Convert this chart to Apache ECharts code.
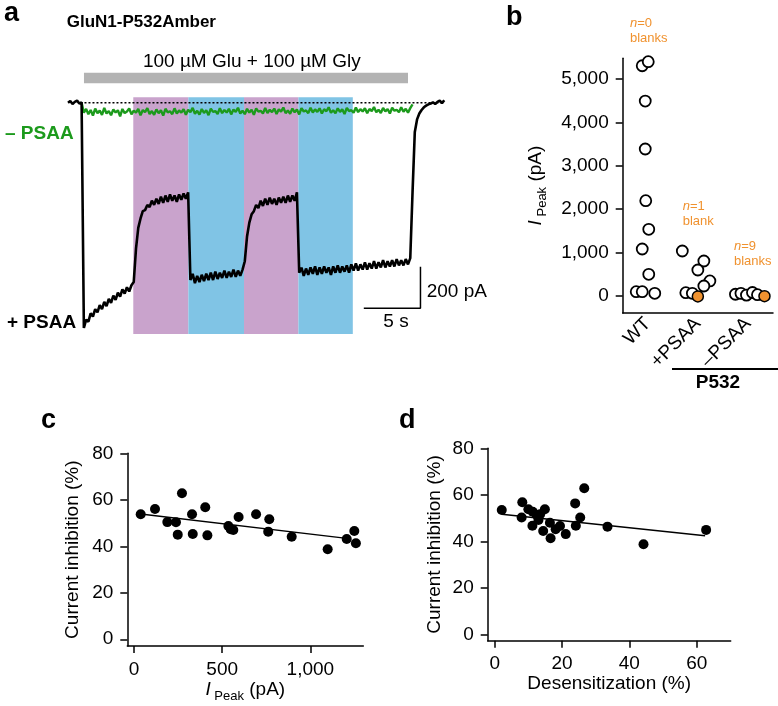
<!DOCTYPE html>
<html>
<head>
<meta charset="utf-8">
<script src="https://cdn.jsdelivr.net/npm/echarts@6/dist/echarts.min.js"></script>
<style>
  html, body { margin: 0; padding: 0; background: #fff; }
  #chart { width: 778px; height: 706px; }
</style>
</head>
<body>
<div id="chart"></div>
<script>
// ---- panel a: whole-cell current, one sample every 0.2 s (pA) ----
const dt = 0.2;
const plusPsaa = [
  0, 8, -6, 4, 10, -4, 2,
  -1080, -1040, -1050, -1010, -1025, -990, -1005, -970, -990, -955, -975, -940, -960, -925, -945, -910, -930, -895, -915, -885, -905, -875,
  -860, -700, -600, -555, -520, -515, -490, -500, -470, -490, -460, -485, -450, -480, -445, -475, -440, -470, -445, -475, -440, -465, -435, -460, -430,
  -850, -820, -865, -830, -860, -825, -855, -820, -850, -815, -850, -810, -845, -815, -840, -805, -840, -810, -835, -800, -835, -805, -830, -800,
  -760, -640, -575, -535, -520, -490, -505, -470, -495, -460, -490, -455, -485, -460, -490, -455, -480, -450, -480, -445, -475, -445, -470, -430,
  -815, -790, -830, -795, -825, -790, -820, -785, -825, -790,
  -820, -785, -815, -790, -825, -785, -815, -780, -815, -785,
  -810, -780, -815, -775, -805, -770, -805, -775, -800, -765,
  -800, -770, -795, -760, -795, -765, -790, -755, -790, -760,
  -785, -755, -785, -750, -780, -755, -780, -750, -775, -745,
  -430, -140, -80, -52, -35, -22, -14, -8, -4, 2, -6, 4, 10, -2, 12
];
const minusPsaaStart = 1.2;
const minusPsaa = [
  0,
  -48, -30, -55, -35, -62, -28, -50, -38, -58, -25, -52, -40, -60, -32, -47, -36, -65, -30, -50, -42,
  -28, -56, -38, -48, -30, -60, -35, -45, -26, -54, -40, -58, -32, -50, -36, -62, -29, -46, -41, -55,
  -27, -52, -37, -48, -31, -58, -34, -45, -25, -53, -39, -57, -30, -49, -36, -60, -28, -44, -40, -54,
  -26, -50, -35, -47, -29, -56, -33, -44, -24, -52, -38, -55, -29, -47, -34, -58, -27, -43, -39, -52,
  -25, -49, -34, -45, -28, -54, -32, -43, -23, -50, -37, -53, -28, -46, -33, -56, -26, -42, -37, -50,
  -24, -47, -32, -44, -27, -52, -31, -41, -22, -48, -36, -51, -27, -44, -32, -54, -25, -40, -36, -48,
  -23, -45, -31, -42, -26, -50, -30, -40, -21, -46, -34, -49, -25, -42, -30, -52, -24, -38, -34, -46,
  -22, -43, -29, -48, -26, -8
];
const purplePeriods = [[5.76, 10.62], [15.53, 20.33]];  // s
const bluePeriods = [[10.62, 15.53], [20.33, 25.13]];
const drugPeriod = [1.41, 30.0];
const baselineT = [1.1, 33.2];
const scaleBarT = [26.1, 31.1];     // 5 s
const scaleBarPA = [-986, -786];    // 200 pA

// ---- panel b: peak currents, x = group index + jitter ----
const groups = ['WT', '+PSAA', '–PSAA'];
const wtPeak = [[0.39, 5306], [0.51, 5399], [0.45, 4493], [0.45, 3387], [0.46, 2196], [0.52, 1537],
  [0.39, 1083], [0.52, 500], [0.27, 99], [0.39, 99], [0.64, 62]];
const plusPeak = [[1.19, 1037], [1.62, 806], [1.5, 599], [1.74, 346], [1.62, 230], [1.26, 76], [1.39, 62]];
const minusPeak = [[2.25, 40], [2.36, 60], [2.47, 20], [2.59, 80], [2.69, 30]];
const blankPeak = [[1.5, -10], [2.83, -5]];
const peakTicks = [0, 1000, 2000, 3000, 4000, 5000];

// ---- panel c: inhibition vs peak current ----
const peakVsInhib = [[38, 53.8], [119, 56.0], [189, 50.4], [238, 50.3], [248, 45.0], [272, 62.8],
  [329, 53.8], [333, 45.3], [404, 56.8], [416, 44.7], [535, 48.7], [548, 47.3], [563, 47.0],
  [593, 52.6], [692, 53.8], [767, 51.6], [761, 46.3], [894, 44.1], [1098, 38.7], [1206, 43.1],
  [1249, 46.6], [1258, 41.3]];
const peakFit = [[38, 53.9], [1206, 43.4]];
const peakXTicks = [0, 500, 1000];
const inhibTicks = [0, 20, 40, 60, 80];

// ---- panel d: inhibition vs desensitization ----
const desensVsInhib = [[2.1, 53.5], [8.2, 56.8], [8.0, 50.2], [10.0, 53.8], [11.3, 52.7], [12.5, 51.3],
  [13.5, 51.6], [11.2, 46.7], [13.0, 49.2], [14.9, 53.8], [14.4, 44.4], [16.4, 48.0], [16.6, 41.3],
  [18.1, 45.2], [19.4, 46.6], [21.1, 43.1], [23.9, 56.3], [24.1, 46.7], [25.4, 50.2], [26.6, 62.8],
  [33.5, 46.3], [44.2, 38.7], [62.8, 44.9]];
const desensFit = [[2.1, 51.6], [62.5, 42.4]];
const desensTicks = [0, 20, 40, 60];

const font = 'Liberation Sans';
const purple = '#c9a3cc';
const blue = '#80c4e5';
const orange = '#f0922f';
const green = '#1c9a1c';

const traceData = plusPsaa.map((v, i) => [+(i * dt).toFixed(2), v]);
const greenData = minusPsaa.map((v, i) => [+(minusPsaaStart + i * dt).toFixed(2), v]);

const shadeAreas = [];
purplePeriods.forEach(p => shadeAreas.push([{ xAxis: p[0], yAxis: -1109, itemStyle: { color: purple } }, { xAxis: p[1], yAxis: 26 }]));
bluePeriods.forEach(p => shadeAreas.push([{ xAxis: p[0], yAxis: -1109, itemStyle: { color: blue } }, { xAxis: p[1], yAxis: 26 }]));
shadeAreas.push([{ xAxis: drugPeriod[0], yAxis: 93, itemStyle: { color: '#b3b3b3' } }, { xAxis: drugPeriod[1], yAxis: 144 }]);

const fmt = v => v.toLocaleString('en-US');

function valueAxis(grid, min, max, ticks, extra) {
  return Object.assign({
    type: 'value', gridIndex: grid, min: min, max: max,
    axisLine: { show: true, onZero: false, lineStyle: { color: '#000', width: 1.5 } },
    axisTick: { show: true, length: 7, customValues: ticks, lineStyle: { color: '#000', width: 1.5 } },
    axisLabel: { customValues: ticks, color: '#000', fontSize: 19, fontFamily: font, margin: 14, formatter: fmt },
    splitLine: { show: false }
  }, extra || {});
}

const nameStyle = { color: '#000', fontSize: 19, fontFamily: font };
const peakNameStyle = {
  color: '#000', fontSize: 19, fontFamily: font,
  rich: {
    i: { fontStyle: 'italic', fontSize: 19, fontFamily: font, lineHeight: 26 },
    s: { fontSize: 13, fontFamily: font, lineHeight: 14, verticalAlign: 'bottom' },
    p: { fontSize: 19, fontFamily: font, lineHeight: 26 }
  }
};

let option = {
  animation: false,
  backgroundColor: '#fff',
  grid: [
    { left: 68, top: 61, width: 391, height: 292 },        // a
    { left: 622.7, top: 58.2, width: 150.3, height: 254.7 }, // b
    { left: 127.3, top: 453.3, width: 236, height: 192.7 },  // c
    { left: 487.7, top: 448.3, width: 243, height: 192.4 }   // d
  ],
  xAxis: [
    { type: 'value', gridIndex: 0, min: 0, max: 34.5, show: false },
    {
      type: 'category', gridIndex: 1, data: groups, boundaryGap: true,
      axisLine: { onZero: false, lineStyle: { color: '#000', width: 1.5 } },
      axisTick: { length: 7, lineStyle: { color: '#000', width: 1.5 } },
      axisLabel: { rotate: 45, interval: 0, color: '#000', fontSize: 19, fontFamily: font, margin: 8 }
    },
    { type: 'value', gridIndex: 1, min: 0, max: 3, show: false },
    valueAxis(2, -38, 1300, peakXTicks, {
      name: '{i|I}{s| Peak}{p| (pA)}', nameLocation: 'middle', nameGap: 31, nameTextStyle: peakNameStyle
    }),
    valueAxis(3, -2.08, 70.1, desensTicks, {
      name: 'Desensitization (%)', nameLocation: 'middle', nameGap: 33, nameTextStyle: nameStyle
    })
  ],
  yAxis: [
    { type: 'value', gridIndex: 0, min: -1200, max: 200, show: false },
    valueAxis(1, -390, 5480, peakTicks, {
      name: '{i|I}{s| Peak}{p| (pA)}', nameLocation: 'middle', nameRotate: 90, nameGap: 74, nameTextStyle: peakNameStyle
    }),
    valueAxis(2, -2.9, 80, inhibTicks, {
      name: 'Current inhibition (%)', nameLocation: 'middle', nameRotate: 90, nameGap: 45, nameTextStyle: nameStyle
    }),
    valueAxis(3, -2.75, 80, inhibTicks, {
      name: 'Current inhibition (%)', nameLocation: 'middle', nameRotate: 90, nameGap: 43, nameTextStyle: nameStyle
    })
  ],
  series: [
    // panel a
    {
      type: 'line', xAxisIndex: 0, yAxisIndex: 0, data: [], z: 1, silent: true,
      markArea: { silent: true, data: shadeAreas }
    },
    {
      type: 'line', xAxisIndex: 0, yAxisIndex: 0, data: greenData, z: 2, showSymbol: false,
      lineStyle: { color: green, width: 2.4 }
    },
    {
      type: 'line', xAxisIndex: 0, yAxisIndex: 0, data: baselineT.map(t => [t, 0]), z: 3, showSymbol: false,
      lineStyle: { color: '#000', width: 1.5, type: [2, 2] }
    },
    {
      type: 'line', xAxisIndex: 0, yAxisIndex: 0, data: traceData, z: 4, showSymbol: false,
      lineStyle: { color: '#000', width: 2.6 }
    },
    {
      type: 'line', xAxisIndex: 0, yAxisIndex: 0, z: 4, showSymbol: false,
      data: [[scaleBarT[0], scaleBarPA[0]], [scaleBarT[1], scaleBarPA[0]], [scaleBarT[1], scaleBarPA[1]]],
      lineStyle: { color: '#000', width: 1.5 }
    },
    // panel b
    ...[wtPeak, plusPeak, minusPeak].map(d => ({
      type: 'scatter', xAxisIndex: 2, yAxisIndex: 1, data: d, symbolSize: 11,
      itemStyle: { color: '#fff', borderColor: '#000', borderWidth: 1.8, opacity: 1 }
    })),
    {
      type: 'scatter', xAxisIndex: 2, yAxisIndex: 1, data: blankPeak, symbolSize: 11,
      itemStyle: { color: orange, borderColor: '#000', borderWidth: 1.5, opacity: 1 }
    },
    // panel c
    {
      type: 'scatter', xAxisIndex: 3, yAxisIndex: 2, data: peakVsInhib, symbolSize: 10,
      itemStyle: { color: '#000', opacity: 1 }
    },
    {
      type: 'line', xAxisIndex: 3, yAxisIndex: 2, data: peakFit, showSymbol: false,
      lineStyle: { color: '#000', width: 1.5 }
    },
    // panel d
    {
      type: 'scatter', xAxisIndex: 4, yAxisIndex: 3, data: desensVsInhib, symbolSize: 10,
      itemStyle: { color: '#000', opacity: 1 }
    },
    {
      type: 'line', xAxisIndex: 4, yAxisIndex: 3, data: desensFit, showSymbol: false,
      lineStyle: { color: '#000', width: 1.5 }
    }
  ],
  graphic: [
    // panel letters
    { type: 'text', x: 4, y: 14, style: { text: 'a', fontSize: 27, fontWeight: 'bold', fontFamily: font, fill: '#000', verticalAlign: 'middle' } },
    { type: 'text', x: 506, y: 17.5, style: { text: 'b', fontSize: 27, fontWeight: 'bold', fontFamily: font, fill: '#000', verticalAlign: 'middle' } },
    { type: 'text', x: 41, y: 421, style: { text: 'c', fontSize: 27, fontWeight: 'bold', fontFamily: font, fill: '#000', verticalAlign: 'middle' } },
    { type: 'text', x: 399, y: 421, style: { text: 'd', fontSize: 27, fontWeight: 'bold', fontFamily: font, fill: '#000', verticalAlign: 'middle' } },
    // panel a text
    { type: 'text', x: 66.7, y: 22.7, style: { text: 'GluN1-P532Amber', fontSize: 17, fontWeight: 'bold', fontFamily: font, fill: '#000', verticalAlign: 'middle' } },
    { type: 'text', x: 251.8, y: 61.7, style: { text: '100 µM Glu + 100 µM Gly', fontSize: 19, fontFamily: font, fill: '#000', align: 'center', verticalAlign: 'middle' } },
    { type: 'text', x: 5, y: 133.3, style: { text: '– PSAA', fontSize: 19, fontWeight: 'bold', fontFamily: font, fill: green, verticalAlign: 'middle' } },
    { type: 'text', x: 7, y: 322.7, style: { text: '+ PSAA', fontSize: 19, fontWeight: 'bold', fontFamily: font, fill: '#000', verticalAlign: 'middle' } },
    { type: 'text', x: 426.7, y: 291.7, style: { text: '200 pA', fontSize: 19, fontFamily: font, fill: '#000', verticalAlign: 'middle' } },
    { type: 'text', x: 396, y: 321.7, style: { text: '5 s', fontSize: 19, fontFamily: font, fill: '#000', align: 'center', verticalAlign: 'middle' } },
    // panel b annotations
    { type: 'text', x: 630, y: 15.8, style: { text: '{i|n}=0\nblanks', fontSize: 13, lineHeight: 15, fontFamily: font, fill: orange, verticalAlign: 'top', rich: { i: { fontStyle: 'italic', fontSize: 13, fontFamily: font, fill: orange } } } },
    { type: 'text', x: 682.7, y: 199, style: { text: '{i|n}=1\nblank', fontSize: 13, lineHeight: 15, fontFamily: font, fill: orange, verticalAlign: 'top', rich: { i: { fontStyle: 'italic', fontSize: 13, fontFamily: font, fill: orange } } } },
    { type: 'text', x: 734, y: 239, style: { text: '{i|n}=9\nblanks', fontSize: 13, lineHeight: 15, fontFamily: font, fill: orange, verticalAlign: 'top', rich: { i: { fontStyle: 'italic', fontSize: 13, fontFamily: font, fill: orange } } } },
    { type: 'line', shape: { x1: 672, y1: 369, x2: 778, y2: 369 }, style: { stroke: '#000', lineWidth: 2 } },
    { type: 'text', x: 718, y: 383, style: { text: 'P532', fontSize: 19, fontWeight: 'bold', fontFamily: font, fill: '#000', align: 'center', verticalAlign: 'middle' } }
  ]
};

const chart = echarts.init(document.getElementById('chart'));
chart.setOption(option);
</script>
</body>
</html>
